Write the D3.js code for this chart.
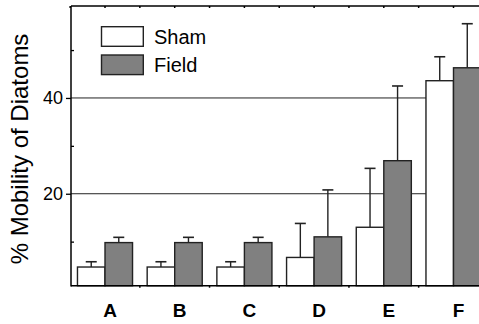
<!DOCTYPE html>
<html>
<head>
<meta charset="utf-8">
<script src="https://cdn.jsdelivr.net/npm/d3@7"></script>
<style>
  html, body { margin: 0; padding: 0; background: #fff; }
  svg { display: block; font-family: "Liberation Sans", Arial, Helvetica, sans-serif; }
</style>
</head>
<body>
<svg id="chart" width="479" height="324"></svg>
<script>
// ---- data ----
const categories = ["A", "B", "C", "D", "E", "F"];
const seriesNames = ["Sham", "Field"];
const shamValues = [4.7, 4.7, 4.7, 6.7, 13.0, 43.6];
const shamErrors = [1.1, 1.1, 1.1, 7.1, 12.3, 5.0];
const fieldValues = [9.8, 9.8, 9.8, 11.0, 26.9, 46.3];
const fieldErrors = [1.1, 1.1, 1.1, 9.8, 15.6, 9.2];
const majorTicks = [20, 40];
const minorTicks = [10, 30, 50];
const yLabel = "% Mobility of Diatoms";

// ---- layout ----
const W = 479, H = 324;
const plotLeft = 71, plotTop = 6, plotBottom = 285.7;
const svg = d3.select("#chart");
svg.append("rect").attr("width", W).attr("height", H).attr("fill", "#fff");

const y = d3.scaleLinear().domain([0.8, 59.2]).range([plotBottom, plotTop]);
const x = d3.scaleLinear().domain([-0.5, 5.5]).range([70.15, 488.35]);
const step = x(1) - x(0);
const barW = step * 0.395;

const fills = ["#ffffff", "#808080"];
const stroke = "#222";

// gridlines (behind bars)
svg.append("g").selectAll("line").data(majorTicks).join("line")
  .attr("x1", plotLeft).attr("x2", W)
  .attr("y1", d => y(d)).attr("y2", d => y(d))
  .attr("stroke", "#222").attr("stroke-width", 1);

// y axis: major ticks outward with labels
const yAxis = d3.axisLeft(y).tickValues(majorTicks).tickSize(5).tickPadding(3).tickFormat(d3.format("d"));
const gy = svg.append("g").attr("transform", `translate(${plotLeft},0)`).call(yAxis);
gy.select(".domain").remove();
gy.selectAll(".tick line").attr("stroke", "#000").attr("stroke-width", 1.3);
gy.selectAll(".tick text").attr("font-size", 18).attr("fill", "#000")
  .attr("font-family", "Liberation Sans, Arial, sans-serif");

// minor ticks inward
const yMinor = d3.axisRight(y).tickValues(minorTicks).tickSize(3).tickFormat("");
const gym = svg.append("g").attr("transform", `translate(${plotLeft},0)`).call(yMinor);
gym.select(".domain").remove();
gym.selectAll(".tick line").attr("stroke", "#000").attr("stroke-width", 1.3);

// bars
const seriesData = [
  { name: seriesNames[0], vals: shamValues, errs: shamErrors, off: -1 },
  { name: seriesNames[1], vals: fieldValues, errs: fieldErrors, off: 0 }
];
seriesData.forEach((s, si) => {
  const g = svg.append("g");
  g.selectAll("line.err").data(categories).join("line").attr("class", "err")
    .attr("x1", (d, i) => x(i) + s.off * barW + barW / 2)
    .attr("x2", (d, i) => x(i) + s.off * barW + barW / 2)
    .attr("y1", (d, i) => y(s.vals[i]))
    .attr("y2", (d, i) => y(s.vals[i] + s.errs[i]))
    .attr("stroke", stroke).attr("stroke-width", 1.4);
  g.selectAll("line.cap").data(categories).join("line").attr("class", "cap")
    .attr("x1", (d, i) => x(i) + s.off * barW + barW / 2 - 5.5)
    .attr("x2", (d, i) => x(i) + s.off * barW + barW / 2 + 5.5)
    .attr("y1", (d, i) => y(s.vals[i] + s.errs[i]))
    .attr("y2", (d, i) => y(s.vals[i] + s.errs[i]))
    .attr("stroke", stroke).attr("stroke-width", 1.6);
  g.selectAll("rect").data(categories).join("rect")
    .attr("x", (d, i) => x(i) + s.off * barW)
    .attr("width", barW)
    .attr("y", (d, i) => y(s.vals[i]))
    .attr("height", (d, i) => plotBottom - y(s.vals[i]))
    .attr("fill", fills[si]).attr("stroke", stroke).attr("stroke-width", 1.4);
});

// frame: left, top, bottom lines
svg.append("line").attr("x1", plotLeft).attr("x2", plotLeft).attr("y1", plotTop).attr("y2", plotBottom + 0.7)
  .attr("stroke", "#000").attr("stroke-width", 1.5);
svg.append("line").attr("x1", plotLeft).attr("x2", W).attr("y1", plotTop).attr("y2", plotTop)
  .attr("stroke", "#000").attr("stroke-width", 1.5);
svg.append("line").attr("x1", plotLeft).attr("x2", W).attr("y1", plotBottom).attr("y2", plotBottom)
  .attr("stroke", "#000").attr("stroke-width", 1.5);

// small ticks on top (every half step) and bottom (group boundaries)
const halfSteps = d3.range(0, 13).map(k => -0.5 + k * 0.5);
svg.append("g").selectAll("line").data(halfSteps).join("line")
  .attr("x1", d => x(d)).attr("x2", d => x(d))
  .attr("y1", plotTop).attr("y2", plotTop + 2)
  .attr("stroke", "#000").attr("stroke-width", 1.5);
const boundaries = d3.range(0, 6).map(k => 0.5 + k);
svg.append("g").selectAll("line").data(boundaries).join("line")
  .attr("x1", d => x(d)).attr("x2", d => x(d))
  .attr("y1", plotBottom).attr("y2", plotBottom + 2)
  .attr("stroke", "#000").attr("stroke-width", 1.5);

// category labels
svg.append("g").selectAll("text").data(categories).join("text")
  .attr("x", (d, i) => x(i) + 5)
  .attr("y", 316.7)
  .attr("text-anchor", "middle")
  .attr("font-size", 19).attr("font-weight", "bold").attr("fill", "#000")
  .text(d => d);

// y label
svg.append("text")
  .attr("transform", "translate(28,149) rotate(-90)")
  .attr("text-anchor", "middle")
  .attr("font-size", 24).attr("fill", "#000")
  .text(yLabel);

// legend
const legend = svg.append("g");
seriesNames.forEach((n, i) => {
  legend.append("rect").attr("x", 101.5).attr("y", 26.7 + i * 28.3)
    .attr("width", 41.8).attr("height", 19.6)
    .attr("fill", fills[i]).attr("stroke", stroke).attr("stroke-width", 1.4);
  legend.append("text").attr("x", 154).attr("y", 44.3 + i * 27.4)
    .attr("font-size", 20).attr("fill", "#000").text(n);
});
</script>
</body>
</html>
